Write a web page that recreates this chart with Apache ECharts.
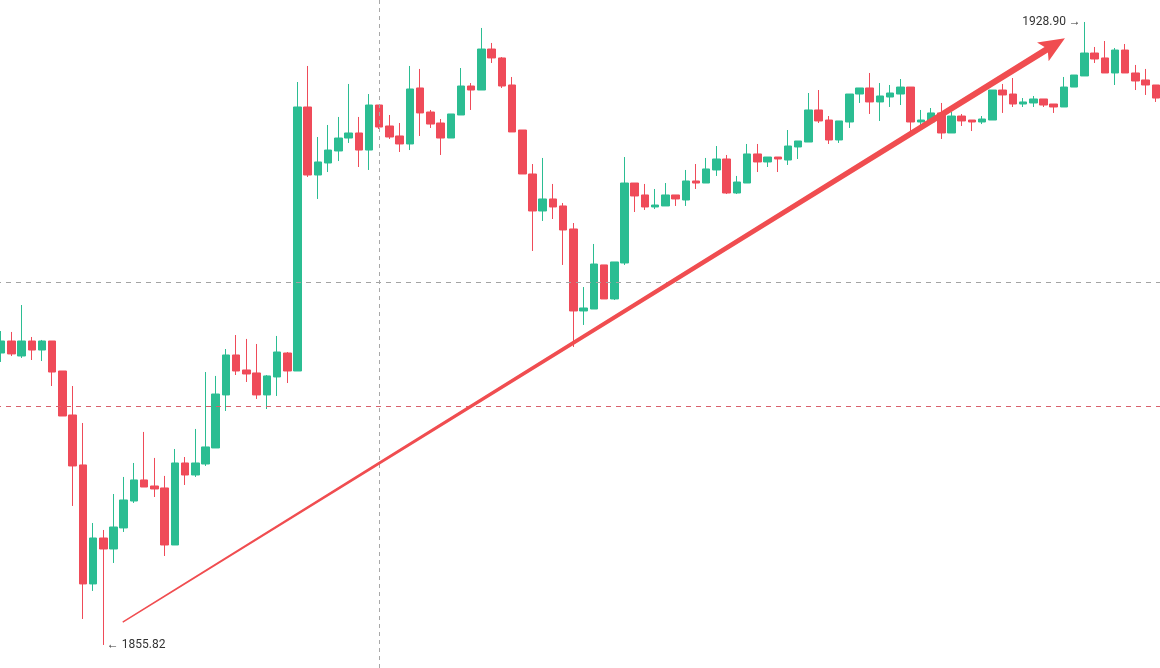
<!DOCTYPE html>
<html>
<head>
<meta charset="utf-8">
<script src="https://cdn.jsdelivr.net/npm/echarts@6/dist/echarts.min.js"></script>
<style>
  html, body { margin: 0; padding: 0; background: #fff; }
  #main { width: 1160px; height: 668px; }
</style>
</head>
<body>
<div id="main"></div>
<script>
// K线数据 (open / close / low / high)
var opens = [
  1890.07,1891.48,1889.72,1891.48,1890.42,1891.48,1887.96,1882.80,1876.94,1862.98,
  1868.37,1867.08,1869.55,1872.71,1875.18,1874.47,1874.24,1867.55,1877.17,1875.76,
  1877.05,1878.93,1885.15,1889.84,1888.08,1887.73,1885.15,1887.26,1890.07,1887.96,
  1918.93,1910.95,1912.36,1913.77,1915.29,1915.88,1913.88,1919.16,1916.70,1915.53,
  1914.59,1921.16,1918.34,1917.05,1915.29,1917.99,1921.39,1920.92,1925.73,1924.68,
  1921.51,1916.23,1911.07,1906.73,1908.14,1907.32,1904.62,1895.00,1895.23,1900.40,
  1896.41,1900.63,1910.01,1908.61,1907.20,1907.32,1908.61,1908.02,1910.25,1910.01,
  1911.54,1912.83,1908.84,1910.01,1913.42,1912.48,1913.06,1912.71,1914.24,1914.82,
  1918.58,1917.40,1915.06,1917.17,1920.45,1921.16,1919.52,1920.10,1920.45,1921.27,
  1917.17,1917.17,1918.23,1915.88,1917.87,1917.40,1917.17,1917.40,1920.92,1920.45,
  1919.28,1919.40,1919.87,1919.28,1918.93,1921.27,1922.57,1925.26,1924.68,1922.92,
  1925.61,1922.92,1922.10,1921.51
];
var closes = [
  1891.48,1889.96,1891.48,1890.42,1891.48,1887.84,1882.68,1876.82,1862.98,1868.37,
  1867.08,1869.66,1872.83,1875.18,1874.35,1874.12,1867.55,1877.17,1875.76,1877.17,
  1879.05,1885.26,1889.84,1887.96,1887.61,1885.15,1887.38,1890.19,1887.96,1918.93,
  1910.95,1912.48,1913.88,1915.29,1915.88,1913.88,1919.16,1916.58,1915.41,1914.59,
  1921.04,1918.23,1916.93,1915.29,1918.11,1921.39,1920.92,1925.73,1924.68,1921.39,
  1916.00,1911.07,1906.73,1908.14,1907.20,1904.50,1895.00,1895.35,1900.51,1896.41,
  1900.75,1910.01,1908.49,1907.20,1907.43,1908.61,1908.14,1910.25,1910.01,1911.66,
  1912.83,1908.84,1910.13,1913.42,1912.48,1913.06,1912.83,1914.35,1914.94,1918.58,
  1917.29,1915.06,1917.29,1920.45,1921.16,1919.52,1920.22,1920.57,1921.27,1917.17,
  1917.40,1918.23,1915.88,1917.87,1917.29,1917.17,1917.52,1920.92,1920.34,1919.28,
  1919.52,1919.87,1919.16,1918.93,1921.27,1922.68,1925.26,1924.56,1922.92,1925.61,
  1922.92,1921.98,1921.51,1919.98
];
var lows = [
  1889.02,1889.72,1889.49,1889.25,1889.13,1886.20,1882.68,1872.13,1858.87,1862.16,
  1855.82,1865.44,1869.08,1872.48,1874.35,1873.18,1866.26,1867.55,1874.59,1875.53,
  1876.82,1878.93,1883.27,1887.49,1886.67,1884.68,1883.50,1885.03,1886.55,1887.96,
  1910.72,1908.14,1911.30,1912.59,1914.71,1911.89,1911.54,1916.35,1915.18,1913.65,
  1913.88,1915.53,1916.47,1913.30,1915.29,1917.99,1918.58,1920.92,1924.09,1921.16,
  1916.00,1911.07,1902.04,1905.56,1905.79,1900.40,1890.78,1893.36,1895.23,1896.41,
  1896.29,1900.40,1906.61,1906.85,1906.96,1907.32,1907.32,1907.32,1909.31,1910.01,
  1910.84,1908.72,1908.72,1910.01,1911.30,1911.89,1911.30,1912.13,1912.83,1914.82,
  1917.05,1914.59,1914.71,1916.47,1919.40,1918.11,1917.29,1918.93,1919.16,1916.11,
  1916.58,1917.05,1915.18,1915.88,1916.70,1916.11,1916.93,1917.40,1918.23,1918.93,
  1918.93,1918.93,1918.93,1918.23,1918.93,1921.27,1922.57,1924.09,1922.92,1921.51,
  1922.92,1920.92,1920.34,1919.52
];
var highs = [
  1892.65,1892.54,1895.70,1891.95,1891.60,1891.48,1887.96,1886.20,1881.86,1870.13,
  1869.31,1873.53,1875.53,1877.17,1880.81,1877.76,1875.65,1878.81,1877.87,1881.16,
  1887.84,1887.38,1890.54,1892.18,1891.72,1891.13,1887.49,1892.07,1890.19,1921.86,
  1923.74,1915.41,1916.82,1917.76,1921.63,1917.76,1920.45,1919.16,1917.99,1917.05,
  1923.74,1923.39,1918.58,1917.52,1918.11,1923.50,1921.74,1928.20,1926.44,1924.79,
  1922.45,1916.23,1912.24,1912.95,1909.90,1907.67,1905.32,1897.81,1902.86,1900.40,
  1900.75,1913.06,1910.01,1909.90,1909.31,1910.01,1908.61,1911.54,1912.24,1912.95,
  1914.35,1913.30,1910.84,1914.59,1914.59,1913.06,1913.06,1916.23,1914.94,1920.57,
  1920.92,1917.87,1917.29,1920.45,1921.16,1922.92,1921.74,1921.51,1922.21,1921.27,
  1918.58,1918.81,1919.40,1918.34,1918.11,1917.40,1917.87,1920.92,1921.63,1922.33,
  1919.98,1920.22,1919.87,1919.28,1922.45,1922.68,1928.90,1925.97,1926.67,1925.85,
  1926.32,1923.86,1923.39,1921.51
];
var categories = opens.map(function (v, i) { return String(i); });

// 参考线
var grayLevel = 1898.40;
var redLevel = 1883.86;
var crossCategory = '37';

// 趋势箭头 [类目序号, 价格]
var arrowFrom = [11.9, 1858.5];
var arrowTo = [104.1, 1927.0];

var upColor = '#2bbd92';
var downColor = '#ef4b59';

var kData = opens.map(function (o, i) {
  return [o, closes[i], lows[i], highs[i]];
});

var chart = echarts.init(document.getElementById('main'));
var option = {
  animation: false,
  grid: { left: -4, right: -1, top: 0, bottom: 0, containLabel: false, outerBoundsMode: 'none' },
  xAxis: {
    type: 'category',
    data: categories,
    show: false,
    boundaryGap: true
  },
  yAxis: {
    type: 'value',
    min: 1853.12,
    max: 1931.48,
    show: false,
    splitLine: { show: false }
  },
  series: [{
    type: 'candlestick',
    data: kData,
    barWidth: 8,
    itemStyle: {
      color: upColor,
      color0: downColor,
      borderColor: upColor,
      borderColor0: downColor,
      borderWidth: 1
    },
    markLine: {
      silent: true,
      symbol: ['none', 'none'],
      label: { show: false },
      data: [
        { yAxis: grayLevel, lineStyle: { color: '#a3a3a3', type: [5, 5], width: 1 } },
        { yAxis: redLevel, lineStyle: { color: '#d9606c', type: [5, 5], width: 1 } },
        { xAxis: crossCategory, lineStyle: { color: '#a8a8a8', type: [4, 4], width: 1 } }
      ]
    },
    markPoint: {
      symbol: 'circle',
      symbolSize: 1,
      itemStyle: { color: 'rgba(0,0,0,0)' },
      label: { color: '#333', fontSize: 12, fontFamily: 'Roboto' },
      data: [
        {
          type: 'max', valueDim: 'highest',
          label: { position: 'left', distance: 3, formatter: function (p) { return p.value.toFixed(2) + ' \u2192'; } }
        },
        {
          type: 'min', valueDim: 'lowest',
          label: { position: 'right', distance: 3, formatter: function (p) { return '\u2190 ' + p.value.toFixed(2); } }
        }
      ]
    }
  }]
};
chart.setOption(option);

// 箭头：通过坐标轴换算位置
function toPixel(pt) {
  var a = chart.convertToPixel({ seriesIndex: 0 }, [Math.floor(pt[0]), pt[1]]);
  var b = chart.convertToPixel({ seriesIndex: 0 }, [Math.floor(pt[0]) + 1, pt[1]]);
  var f = pt[0] - Math.floor(pt[0]);
  return [a[0] + (b[0] - a[0]) * f, a[1]];
}
var p0 = toPixel(arrowFrom);
var p1 = toPixel(arrowTo);
var dx = p1[0] - p0[0], dy = p1[1] - p0[1];
var len = Math.sqrt(dx * dx + dy * dy);
var ux = dx / len, uy = dy / len;
var nx = -uy, ny = ux;
var headLen = 26, headHalf = 11, w0 = 0.7, w1 = 3.2;
var bx = p1[0] - ux * headLen, by = p1[1] - uy * headLen;
var bx2 = p1[0] - ux * (headLen - 4), by2 = p1[1] - uy * (headLen - 4);
chart.setOption({
  graphic: [{
    type: 'polygon',
    silent: true,
    shape: {
      points: [
        [p0[0] + nx * w0, p0[1] + ny * w0],
        [bx2 + nx * w1, by2 + ny * w1],
        [bx + nx * headHalf, by + ny * headHalf],
        [p1[0], p1[1]],
        [bx - nx * headHalf, by - ny * headHalf],
        [bx2 - nx * w1, by2 - ny * w1],
        [p0[0] - nx * w0, p0[1] - ny * w0]
      ]
    },
    style: { fill: '#f04d50' },
    z: 10
  }]
});
</script>
</body>
</html>
